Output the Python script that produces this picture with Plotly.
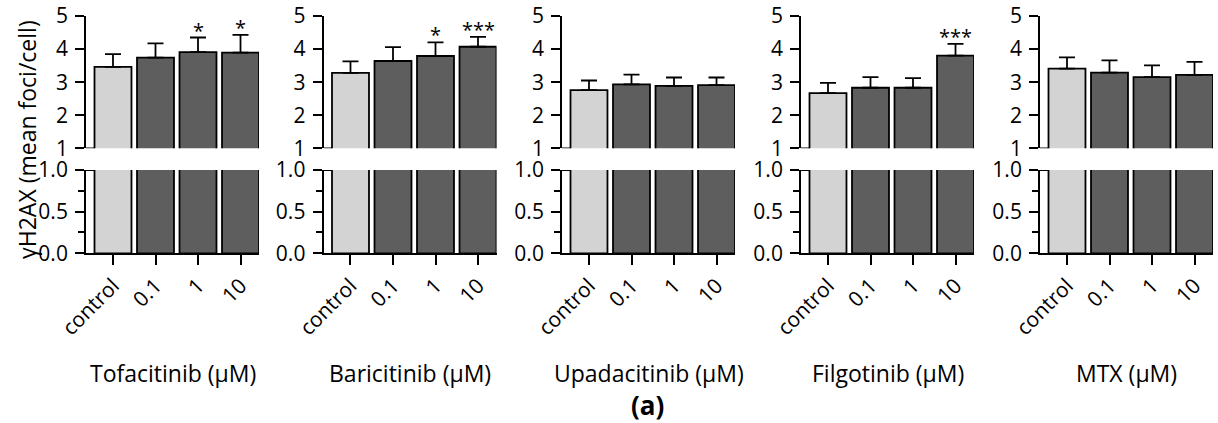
import plotly.graph_objects as go

categories = ["control", "0.1", "1", "10"]
drugs = ["Tofacitinib (μM)", "Baricitinib (μM)", "Upadacitinib (μM)", "Filgotinib (μM)", "MTX (μM)"]

tofacitinib_mean = [3.46, 3.74, 3.91, 3.89]
tofacitinib_sd = [0.39, 0.43, 0.44, 0.54]
baricitinib_mean = [3.28, 3.64, 3.79, 4.07]
baricitinib_sd = [0.35, 0.42, 0.41, 0.30]
upadacitinib_mean = [2.76, 2.93, 2.89, 2.91]
upadacitinib_sd = [0.29, 0.30, 0.25, 0.23]
filgotinib_mean = [2.67, 2.83, 2.83, 3.80]
filgotinib_sd = [0.31, 0.32, 0.29, 0.36]
mtx_mean = [3.41, 3.29, 3.15, 3.22]
mtx_sd = [0.34, 0.37, 0.36, 0.39]

tofacitinib_sig = ["", "", "*", "*"]
baricitinib_sig = ["", "", "*", "***"]
upadacitinib_sig = ["", "", "", ""]
filgotinib_sig = ["", "", "", "***"]
mtx_sig = ["", "", "", ""]

means = [tofacitinib_mean, baricitinib_mean, upadacitinib_mean, filgotinib_mean, mtx_mean]
sds = [tofacitinib_sd, baricitinib_sd, upadacitinib_sd, filgotinib_sd, mtx_sd]
sigs = [tofacitinib_sig, baricitinib_sig, upadacitinib_sig, filgotinib_sig, mtx_sig]

W, H = 1218, 423
FONT = "Open Sans"
colors = ["#d3d3d3", "#5e5e5e", "#5e5e5e", "#5e5e5e"]
BAR_W = 0.87
XMIN, XMAX = -0.635, 3.435
panel_left_px = [86, 323.5, 562, 801, 1040]
panel_w_px = 173
top_dom = [(H - 148.3) / H, (H - 16) / H]
bot_dom = [(H - 253.3) / H, (H - 170) / H]
LW = 1.8

fig = go.Figure()
layout = dict(
    width=W, height=H, autosize=False,
    margin=dict(l=0, r=0, t=0, b=0, pad=0, autoexpand=False),
    plot_bgcolor="white", paper_bgcolor="white", showlegend=False,
    font=dict(family=FONT, color="black"), bargap=1 - BAR_W,
)
annotations = []
shapes = []
xs = list(range(len(categories)))

for p in range(5):
    bi = p + 1        # bottom axes index
    ti = p + 6        # top axes index
    d0 = panel_left_px[p] / W
    d1 = (panel_left_px[p] + panel_w_px) / W
    fig.add_trace(go.Bar(
        x=xs, y=means[p], width=BAR_W, marker=dict(color=colors, line=dict(color="black", width=LW)),
        xaxis=f"x{bi}", yaxis=f"y{bi}", hoverinfo="skip"))
    fig.add_trace(go.Bar(
        x=xs, y=means[p], width=BAR_W, marker=dict(color=colors, line=dict(color="black", width=LW)),
        error_y=dict(type="data", symmetric=False, array=sds[p], arrayminus=[0] * 4,
                     color="black", thickness=LW, width=8),
        xaxis=f"x{ti}", yaxis=f"y{ti}", hoverinfo="skip"))
    layout[f"xaxis{bi}"] = dict(
        domain=[d0, d1], range=[XMIN, XMAX], anchor=f"y{bi}", automargin=False,
        tickvals=xs, ticktext=categories, tickangle=-45,
        ticks="outside", ticklen=10, tickwidth=LW, tickcolor="black",
        showline=True, linecolor="black", linewidth=LW, showgrid=False, zeroline=False,
        tickfont=dict(family=FONT, size=21, color="black"), fixedrange=True)
    layout[f"yaxis{bi}"] = dict(
        domain=bot_dom, range=[0, 1], anchor=f"x{bi}", automargin=False,
        tickvals=[0, 0.5, 1], ticktext=["0.0", "0.5", "1.0"],
        ticks="outside", ticklen=9, tickwidth=LW, tickcolor="black", ticklabelstandoff=3,
        minor=dict(tickvals=[0.25, 0.75], ticks="outside", ticklen=6, tickwidth=LW, tickcolor="black"),
        showline=True, linecolor="black", linewidth=LW, showgrid=False, zeroline=False,
        tickfont=dict(family=FONT, size=21, color="black"), fixedrange=True)
    layout[f"xaxis{ti}"] = dict(
        domain=[d0, d1], range=[XMIN, XMAX], anchor=f"y{ti}", automargin=False,
        showticklabels=False, ticks="", showline=False, showgrid=False, zeroline=False, fixedrange=True)
    layout[f"yaxis{ti}"] = dict(
        domain=top_dom, range=[1, 5], anchor=f"x{ti}", automargin=False,
        tickvals=[1, 2, 3, 4, 5],
        ticks="outside", ticklen=9, tickwidth=LW, tickcolor="black", ticklabelstandoff=3,
        showline=True, linecolor="black", linewidth=LW, showgrid=False, zeroline=False,
        tickfont=dict(family=FONT, size=21, color="black"), fixedrange=True)
    for ax_i in (ti, bi):
        shapes.append(dict(type="line", xref=f"x{ax_i}", yref=f"y{ax_i}",
                           x0=XMIN, x1=xs[0] - BAR_W / 2, y0=1, y1=1,
                           line=dict(color="black", width=LW)))
    for i, s in enumerate(sigs[p]):
        if s:
            annotations.append(dict(
                x=xs[i], y=means[p][i] + sds[p][i], xref=f"x{ti}", yref=f"y{ti}",
                text=s, showarrow=False, yanchor="bottom", yshift=-8,
                font=dict(family=FONT, size=20, color="black")))
    annotations.append(dict(
        x=(d0 + d1) / 2, y=(H - 373) / H, xref="paper", yref="paper", text=drugs[p],
        showarrow=False, xanchor="center", yanchor="middle",
        font=dict(family=FONT, size=23, color="black")))

annotations.append(dict(
    x=27 / W, y=(H - 140) / H, xref="paper", yref="paper", text="γH2AX (mean foci/cell)",
    textangle=-90, showarrow=False, xanchor="center", yanchor="middle",
    font=dict(family=FONT, size=23, color="black")))
annotations.append(dict(
    x=647 / W, y=(H - 405) / H, xref="paper", yref="paper", text="<b>(a)</b>",
    showarrow=False, xanchor="center", yanchor="middle",
    font=dict(family=FONT, size=26, color="black")))

layout["annotations"] = annotations
layout["shapes"] = shapes
fig.update_layout(**layout)
fig.write_html("out.html", config={"responsive": False, "displayModeBar": False},
               post_script="document.body.style.margin='0';document.body.style.overflow='hidden';")
